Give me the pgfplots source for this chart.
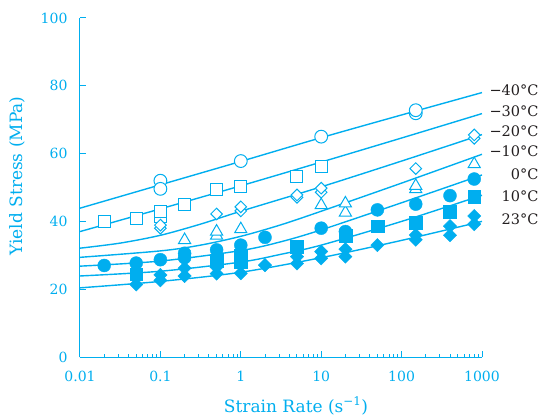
\documentclass[border=0pt]{standalone}
\usepackage{fontspec}
\setmainfont{DejaVu Serif}
\usepackage{pgfplots}
\pgfplotsset{compat=1.18}
\definecolor{cy}{HTML}{00AEEF}
\definecolor{lab}{HTML}{231F20}
\begin{document}
\begin{tikzpicture}[x=1pt,y=1pt]
\useasboundingbox (0,0) rectangle (543,416);
\begin{axis}[
  at={(80pt,59pt)}, anchor=south west,
  scale only axis, width=402pt, height=339pt,
  xmode=log, xmin=0.01, xmax=1000, ymin=0, ymax=100,
  axis x line*=bottom, axis y line*=left,
  axis line style={cy, line width=1pt},
  xtick={0.01,0.1,1,10,100,1000},
  xticklabels={0.01,0.1,1,10,100,1000},
  minor xtick={},
  ytick={0,20,40,60,80,100},
  tick align=inside, major tick length=6pt,
  tick style={cy, line width=1pt},
  ticklabel style={font=\fontsize{14}{17}\selectfont, text=cy},
  xticklabel style={yshift=-11pt},
  yticklabel style={xshift=-9pt},
  /pgf/number format/assume math mode=true,
  clip=false,
]
% fitted curves
\addplot[cy, line width=1.4pt, smooth] coordinates {(0.01,43.9) (0.1,50.8) (1,57.7) (10,64.7) (100,71.4) (1000,78.0)};
\addplot[cy, line width=1.4pt, smooth] coordinates {(0.01,37.0) (0.1,43.7) (1,50.5) (10,57.5) (100,64.6) (1000,71.8)};
\addplot[cy, line width=1.4pt, smooth] coordinates {(0.01,32.1) (0.0316,33.6) (0.1,35.9) (0.316,39.2) (1,43.0) (10,50.2) (100,57.8) (1000,65.6)};
\addplot[cy, line width=1.4pt, smooth] coordinates {(0.01,29.4) (0.1,31.3) (0.316,33.0) (1,35.6) (3.16,39.0) (10,43.0) (100,51.3) (1000,59.8)};
\addplot[cy, line width=1.4pt, smooth] coordinates {(0.01,26.8) (0.1,28.3) (1,31.4) (3.16,34.0) (10,37.5) (100,45.5) (1000,53.7)};
\addplot[cy, line width=1.4pt, smooth] coordinates {(0.01,23.9) (0.1,25.3) (1,28.0) (3.16,30.3) (10,33.0) (100,40.0) (1000,47.7)};
\addplot[cy, line width=1.4pt, smooth] coordinates {(0.01,20.4) (0.1,22.3) (1,25.0) (10,29.3) (100,34.4) (1000,40.0)};
% -40 C open circles
\addplot[only marks, mark=*, mark size=6.4pt, mark options={draw=cy, fill=white, line width=1pt}] coordinates {
(0.1,52.0) (0.1,49.6) (1,57.8) (10,65.0) (150,71.9) (150,72.8)};
% -30 C open squares
\addplot[only marks, mark=square*, mark size=6pt, mark options={draw=cy, fill=white, line width=1pt}] coordinates {
(0.02,40.1) (0.05,41.0) (0.1,41.3) (0.1,42.9) (0.2,45.0) (0.5,49.5) (1,50.2) (5,53.2) (10,56.3)};
% -20 C open diamonds
\addplot[only marks, mark=square*, mark size=4.1pt, mark options={draw=cy, fill=white, line width=1pt, rotate=45}] coordinates {
(0.1,38.0) (0.1,38.9) (0.5,42.2) (1,43.1) (1,44.3) (5,47.1) (5,47.8) (10,48.6) (10,49.8) (150,55.6) (800,64.5) (800,65.5)};
% -10 C open triangles
\addplot[only marks, mark=triangle*, mark size=7pt, mark options={draw=cy, fill=white, line width=1pt}] coordinates {
(0.2,34.5) (0.5,35.8) (0.5,37.0) (1,37.7) (10,44.8) (20,42.6) (20,45.3) (150,49.5) (150,50.5) (800,56.9)};
% 0 C filled circles
\addplot[only marks, mark=*, mark size=6.5pt, mark options={draw=cy, fill=cy}] coordinates {
(0.02,27.0) (0.05,27.7) (0.1,28.7) (0.2,29.3) (0.2,30.6) (0.5,31.6) (1,33.0) (2,35.3) (10,38.0) (20,37.0) (50,43.4) (150,45.1) (400,47.6) (800,52.5)};
% 10 C filled squares
\addplot[only marks, mark=square*, mark size=6.4pt, mark options={draw=cy, fill=cy}] coordinates {
(0.05,24.4) (0.5,28.4) (1,28.0) (1,30.0) (5,32.5) (20,35.8) (50,38.6) (150,39.6) (400,42.9) (800,47.3)};
% 23 C filled diamonds
\addplot[only marks, mark=square*, mark size=4.7pt, mark options={draw=cy, fill=cy, rotate=45}] coordinates {
(0.05,21.4) (0.1,22.6) (0.1,24.2) (0.2,23.9) (0.2,26.2) (0.5,24.6) (0.5,26.5) (1,24.7) (2,27.1) (5,27.6) (5,29.6) (10,29.1) (10,31.1) (20,29.6) (20,31.8) (50,33.0) (150,34.6) (150,36.0) (400,35.9) (400,38.6) (800,39.2) (800,41.6)};
\end{axis}
\node[rotate=90, text=cy, font=\fontsize{17}{20}\selectfont] at (17,240) {Yield Stress (MPa)};
\node[text=cy, font=\fontsize{17}{20}\selectfont] at (296,10) {Strain Rate (s\textsuperscript{−1})};
\begin{scope}[every node/.style={anchor=east, text=lab, font=\fontsize{14.5}{17}\selectfont}]
\node at (542,326) {−40°C};
\node at (542,304.3) {−30°C};
\node at (542,284.3) {−20°C};
\node at (542,264.3) {−10°C};
\node at (542,241.7) {0°C};
\node at (542,219.3) {10°C};
\node at (542,196.7) {23°C};
\end{scope}
\end{tikzpicture}
\end{document}
